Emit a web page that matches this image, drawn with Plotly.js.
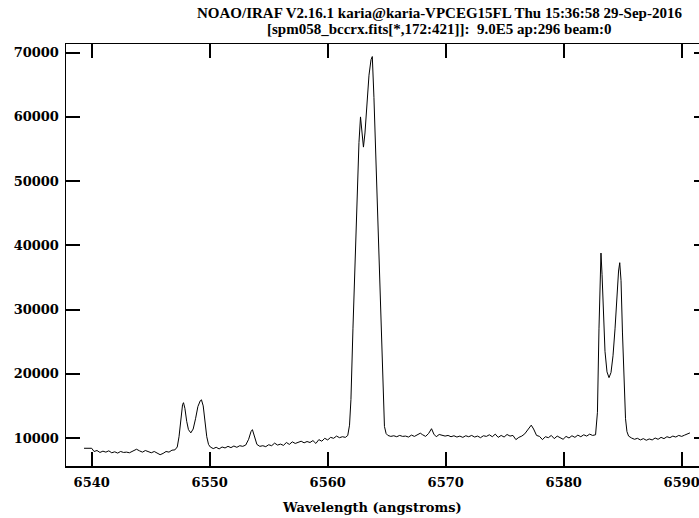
<!DOCTYPE html>
<html>
<head>
<meta charset="utf-8">
<script src="https://cdn.plot.ly/plotly-3.0.1.min.js"></script>
<style>
html, body { margin: 0; padding: 0; overflow: hidden; background: #fff; }
#chart { width: 709px; height: 518px; }
</style>
</head>
<body>
<div id="chart"></div>
<script>
// Wavelength (angstroms)
const wavelength = [
 6539.35, 6540.0, 6540.2, 6540.45, 6540.7, 6540.95, 6541.2, 6541.45, 6541.7, 6541.95,
 6542.2, 6542.45, 6542.7, 6542.95, 6543.2, 6543.5, 6543.8, 6544.05, 6544.3, 6544.55,
 6544.8, 6545.05, 6545.3, 6545.55, 6545.8, 6546.05, 6546.3, 6546.55, 6546.8, 6547.05,
 6547.25, 6547.4, 6547.55, 6547.7, 6547.78, 6547.9, 6548.05, 6548.2, 6548.4, 6548.6,
 6548.8, 6549.0, 6549.2, 6549.3, 6549.45, 6549.6, 6549.75, 6549.9, 6550.05, 6550.3,
 6550.55, 6550.8, 6551.05, 6551.3, 6551.55, 6551.8, 6552.05, 6552.3, 6552.55, 6552.8,
 6553.05, 6553.3, 6553.5, 6553.62, 6553.8, 6554.0, 6554.25, 6554.5, 6554.75, 6555.0,
 6555.25, 6555.5, 6555.75, 6556.0, 6556.25, 6556.5, 6556.75, 6557.0, 6557.25, 6557.5,
 6557.75, 6558.0, 6558.25, 6558.5, 6558.75, 6559.0, 6559.25, 6559.5, 6559.75, 6560.0,
 6560.25, 6560.5, 6560.75, 6561.0, 6561.25, 6561.5, 6561.7, 6561.85, 6561.97, 6562.14,
 6562.31, 6562.48, 6562.65, 6562.78, 6562.91, 6563.03, 6563.16, 6563.33, 6563.5, 6563.67,
 6563.78, 6563.92, 6564.09, 6564.26, 6564.43, 6564.6, 6564.73, 6564.81, 6564.95, 6565.1,
 6565.35, 6565.6, 6565.85, 6566.1, 6566.35, 6566.6, 6566.85, 6567.1, 6567.35, 6567.6,
 6567.85, 6568.05, 6568.3, 6568.55, 6568.8, 6569.0, 6569.2, 6569.45, 6569.7, 6569.95,
 6570.2, 6570.45, 6570.7, 6570.95, 6571.2, 6571.45, 6571.7, 6571.95, 6572.2, 6572.45,
 6572.7, 6572.95, 6573.2, 6573.45, 6573.7, 6573.95, 6574.2, 6574.45, 6574.7, 6574.95,
 6575.2, 6575.45, 6575.7, 6575.95, 6576.2, 6576.45, 6576.7, 6576.95, 6577.25, 6577.45,
 6577.7, 6577.95, 6578.2, 6578.45, 6578.7, 6578.95, 6579.2, 6579.45, 6579.7, 6579.95,
 6580.2, 6580.45, 6580.7, 6580.95, 6581.2, 6581.45, 6581.7, 6581.95, 6582.2, 6582.45,
 6582.7, 6582.86, 6582.99, 6583.08, 6583.16, 6583.25, 6583.37, 6583.5, 6583.67, 6583.84,
 6584.01, 6584.18, 6584.35, 6584.52, 6584.65, 6584.75, 6584.86, 6584.98, 6585.11, 6585.24,
 6585.36, 6585.5, 6585.75, 6586.0, 6586.25, 6586.5, 6586.75, 6587.0, 6587.25, 6587.5,
 6587.75, 6588.0, 6588.25, 6588.5, 6588.75, 6589.0, 6589.25, 6589.5, 6589.75, 6590.0,
 6590.25, 6590.5, 6590.7
];
// Flux (counts)
const flux = [
 8400, 8400, 7900, 8050, 7750, 7950, 7800, 8000, 7700, 7850,
 7650, 7900, 7750, 7800, 7700, 8000, 8250, 8000, 7800, 8050,
 7850, 7700, 7900, 7650, 7400, 7600, 7900, 7800, 8100, 8150,
 8600, 10200, 13000, 15200, 15500, 14600, 12600, 11300, 10800, 11400,
 13000, 14900, 15800, 15950, 15000, 12500, 10200, 9000, 8600, 8350,
 8550, 8300, 8600, 8450, 8700, 8500, 8750, 8550, 8800, 8700,
 8900, 9800, 11000, 11300, 10200, 9000, 8700, 8800, 8650, 8950,
 8800, 9200, 8900, 9050, 8850, 9300, 9000, 9400, 9150, 9300,
 9500, 9250, 9450, 9300, 9600, 9150, 9750, 9500, 9950, 9700,
 10100, 9950, 10300, 10050, 10200, 10100, 10400, 12000, 16000, 27000,
 38000, 48000, 56000, 60000, 57500, 55300, 57500, 62500, 66500, 68900,
 69400, 63000, 53000, 43000, 33000, 23000, 15000, 11800, 10700, 10400,
 10250, 10350, 10200, 10400, 10250, 10300, 10150, 10450, 10250, 10500,
 10750, 10500, 10250, 10700, 11450, 10600, 10200, 10550, 10450, 10300,
 10400, 10200, 10350, 10150, 10300, 10100, 10350, 10200, 10400, 10150,
 10300, 10050, 10350, 10250, 10500, 10200, 10600, 10100, 10400, 10150,
 10550, 10300, 10400, 9750, 10100, 10300, 10650, 11200, 12000, 11400,
 10400, 10250, 9750, 10200, 10050, 10400, 9900, 10300, 10100, 9800,
 10250, 10000, 10350, 10100, 10450, 10200, 10500, 10300, 10600, 10400,
 10500, 14000, 27000, 35000, 38800, 35500, 28500, 23500, 20300, 19400,
 20200, 22800, 27000, 32200, 36000, 37300, 34500, 26500, 18500, 13000,
 11000, 10300, 10000, 9800, 9950, 9700, 9900, 9650, 9850, 9700,
 10000, 9800, 10100, 9900, 10200, 10050, 10300, 10150, 10400, 10250,
 10450, 10650, 10800
];
const xTickVals = [6540, 6550, 6560, 6570, 6580, 6590];
const yTickVals = [10000, 20000, 30000, 40000, 50000, 60000, 70000];
const titleLine1 = "NOAO/IRAF V2.16.1 karia@karia-VPCEG15FL Thu 15:36:58 29-Sep-2016";
const titleLine2 = "[spm058_bccrx.fits[*,172:421]]:  9.0E5 ap:296 beam:0";
const xTitle = "Wavelength (angstroms)";

const tickFontFamily = "DejaVu Serif, Liberation Serif, serif";
const titleFontFamily = "Liberation Serif, DejaVu Serif, serif";

const trace = {
  x: wavelength, y: flux, type: 'scatter', mode: 'lines',
  line: { color: '#000', width: 1 }, hoverinfo: 'skip'
};

const axisCommon = {
  showgrid: false, zeroline: false, showline: true,
  linecolor: '#000', linewidth: 1.5,
  ticks: 'inside', ticklen: 14, tickwidth: 2, tickcolor: '#000',
  mirror: 'ticks',
  tickfont: { family: tickFontFamily, size: 13, color: '#000', weight: 'bold' }
};

// plot area: x 66..708 px, y 44..466 px
const plotH = 422;
function paperY(py) { return (466 - py) / plotH; }
function paperX(px) { return (px - 66) / 642; }

const layout = {
  width: 709, height: 518,
  margin: { l: 66, r: 1, t: 44, b: 52 },
  paper_bgcolor: '#fff', plot_bgcolor: '#fff',
  showlegend: false,
  xaxis: Object.assign({}, axisCommon, {
    range: [6537.822, 6592.23], tickmode: 'array', tickvals: xTickVals,
    ticktext: xTickVals.map(String), ticklabelstandoff: 4
  }),
  yaxis: Object.assign({}, axisCommon, {
    range: [5640, 71355], tickmode: 'array', tickvals: yTickVals,
    ticktext: yTickVals.map(String), ticklabelstandoff: 3
  }),
  annotations: [
    { text: titleLine1, xref: 'paper', yref: 'paper',
      x: paperX(439), y: paperY(13), xanchor: 'center', yanchor: 'middle',
      showarrow: false,
      font: { family: titleFontFamily, size: 15, color: '#000', weight: 'bold' } },
    { text: titleLine2, xref: 'paper', yref: 'paper',
      x: paperX(440), y: paperY(29), xanchor: 'center', yanchor: 'middle',
      showarrow: false,
      font: { family: titleFontFamily, size: 15, color: '#000', weight: 'bold' } },
    { text: xTitle, xref: 'paper', yref: 'paper',
      x: paperX(372), y: paperY(507), xanchor: 'center', yanchor: 'middle',
      showarrow: false,
      font: { family: tickFontFamily, size: 13, color: '#000', weight: 'bold' } }
  ]
};

Plotly.newPlot('chart', [trace], layout, { displayModeBar: false, staticPlot: true });
</script>
</body>
</html>
